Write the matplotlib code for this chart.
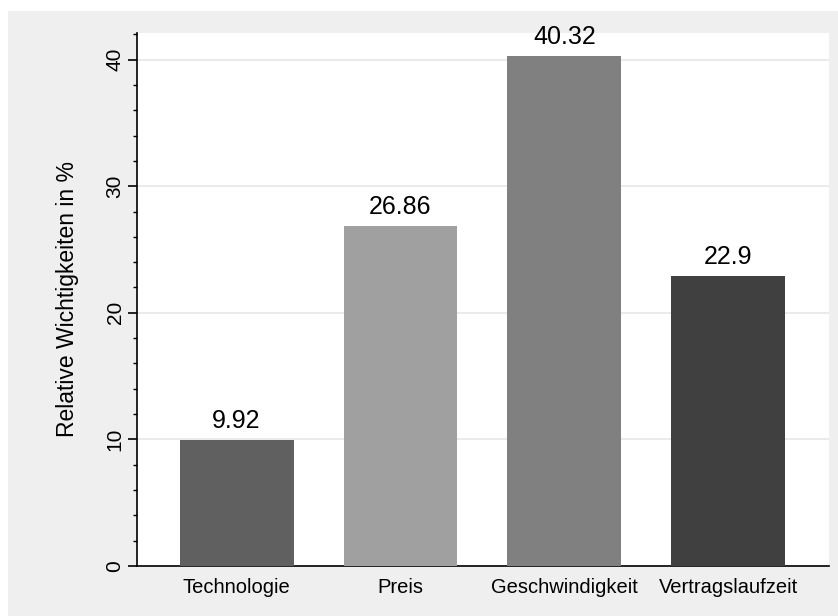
import matplotlib
matplotlib.use("Agg")
import matplotlib.pyplot as plt
from matplotlib.patches import Rectangle
from matplotlib.ticker import MultipleLocator

categories = ["Technologie", "Preis", "Geschwindigkeit", "Vertragslaufzeit"]
values = [9.92, 26.86, 40.32, 22.9]
labels = ["9.92", "26.86", "40.32", "22.9"]
colors = ["#606060", "#a0a0a0", "#808080", "#404040"]
yticks = [0, 10, 20, 30, 40]

plt.rcParams['font.family'] = ['Liberation Sans', 'DejaVu Sans']

W, H = 838, 616
fig = plt.figure(figsize=(W / 100, H / 100), dpi=100)
fig.patch.set_facecolor("white")
fig.patches.append(Rectangle((8 / W, 0), 1 - 8 / W, 1 - 11 / H,
                             transform=fig.transFigure, facecolor="#efefef",
                             edgecolor="none", zorder=-10))

left, right, top, bottom = 137, 829, 33, 566
ax = fig.add_axes([left / W, 1 - bottom / H, (right - left) / W, (bottom - top) / H])
ax.set_facecolor("white")

x = list(range(len(categories)))
ax.bar(x, values, width=0.695, color=colors, zorder=3)
for xi, v, lab in zip(x, values, labels):
    ax.annotate(lab, (xi, v), xytext=(0, 5), textcoords="offset points",
                ha="center", va="bottom", fontsize=18)

ax.set_xlim(-0.608, 3.616)
ax.set_ylim(0, 42.1)
ax.set_xticks(x)
ax.set_xticklabels(categories, fontsize=14.5)
ax.tick_params(axis="x", length=0, pad=8.5)
ax.set_yticks(yticks)
ax.set_yticklabels([str(t) for t in yticks], rotation=90, va="center", fontsize=15)
ax.yaxis.set_minor_locator(MultipleLocator(2))
ax.tick_params(axis="y", which="major", length=6.5, width=1.2, pad=2.5)
ax.tick_params(axis="y", which="minor", length=3.2, width=1.0)
ax.yaxis.grid(True, which="major", color="#e6e6e6", linewidth=1.2, zorder=0)
ax.set_axisbelow(True)
for s in ["top", "right"]:
    ax.spines[s].set_visible(False)
ax.spines["left"].set_linewidth(1.2)
ax.spines["bottom"].set_linewidth(1.2)
ax.set_ylabel("Relative Wichtigkeiten in %", fontsize=16.5, labelpad=19)

fig.savefig("out.png", dpi=100, facecolor=fig.get_facecolor())
